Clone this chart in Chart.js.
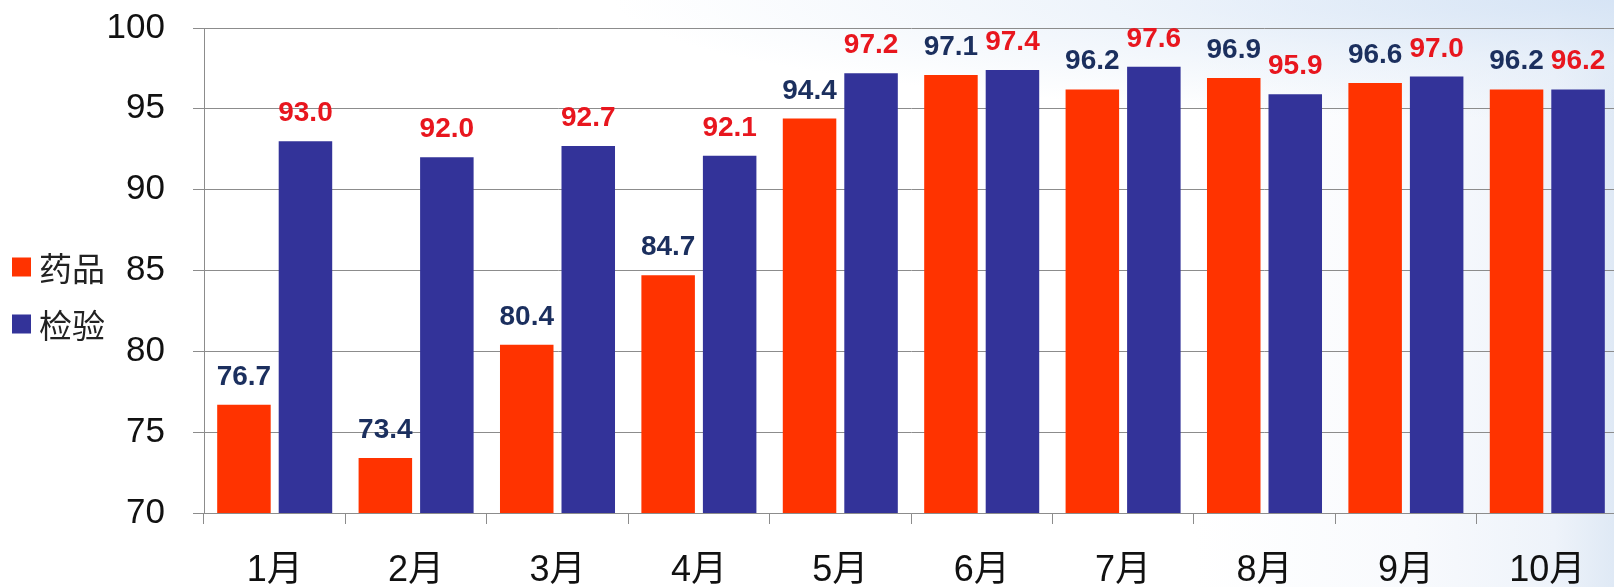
<!DOCTYPE html>
<html><head><meta charset="utf-8">
<script src="https://cdn.jsdelivr.net/npm/chart.js@4/dist/chart.umd.min.js"></script>
<style>
html,body{margin:0;padding:0;overflow:hidden;width:1614px;height:587px;}
body{background:
  radial-gradient(ellipse 1000px 120px at 100% 0%, rgba(214,228,245,0.95) 0%, rgba(226,236,248,0.6) 50%, rgba(255,255,255,0) 100%),
  linear-gradient(to left, #dfe9f5 0px, #eef3fa 60px, #f8fafd 200px, #ffffff 420px);}
canvas{display:block}
</style></head><body>
<canvas id="c" width="1630" height="587"></canvas>
<script>
const categories = ['1月','2月','3月','4月','5月','6月','7月','8月','9月','10月'];
const seriesNames = ['药品','检验'];
const drugValues = [76.7, 73.4, 80.4, 84.7, 94.4, 97.1, 96.2, 96.9, 96.6, 96.2];
const labValues  = [93.0, 92.0, 92.7, 92.1, 97.2, 97.4, 97.6, 95.9, 97.0, 96.2];
const yMin = 70, yMax = 100, yStep = 5;

const valueLabels = {
  id: 'valueLabels',
  afterDatasetsDraw(chart) {
    const ctx = chart.ctx;
    chart.data.datasets.forEach((ds, di) => {
      const meta = chart.getDatasetMeta(di);
      ctx.save();
      ctx.font = 'bold 28px "Liberation Sans", Arial, sans-serif';
      ctx.fillStyle = ds.labelColor;
      ctx.textAlign = 'center';
      ctx.textBaseline = 'alphabetic';
      meta.data.forEach((bar, i) => {
        ctx.fillText(ds.data[i].toFixed(1), bar.x, bar.y - 20);
      });
      ctx.restore();
    });
  }
};

// Legend at the far left, built from the datasets' own labels and colours
const sideLegend = {
  id: 'sideLegend',
  afterDraw(chart) {
    const ctx = chart.ctx;
    ctx.save();
    ctx.font = '33px "Noto Sans CJK SC", sans-serif';
    ctx.textAlign = 'left';
    ctx.textBaseline = 'middle';
    chart.data.datasets.forEach((ds, i) => {
      const cy = 267 + i * 57;
      ctx.fillStyle = ds.backgroundColor;
      ctx.fillRect(12, cy - 9.5, 19, 19);
      ctx.fillStyle = '#222';
      ctx.fillText(ds.label, 39, cy + 1);
    });
    ctx.restore();
  }
};

new Chart(document.getElementById('c'), {
  type: 'bar',
  data: {
    labels: categories,
    datasets: [
      { label: seriesNames[0], data: drugValues, backgroundColor: '#ff3300', labelColor: '#1b2f5e',
        categoryPercentage: 0.87, barPercentage: 0.87 },
      { label: seriesNames[1], data: labValues, backgroundColor: '#333399', labelColor: '#e8161e',
        categoryPercentage: 0.87, barPercentage: 0.87 }
    ]
  },
  options: {
    responsive: false,
    devicePixelRatio: 1,
    animation: false,
    layout: { padding: { left: 0, right: 12, top: 28, bottom: 0 } },
    plugins: {
      legend: { display: false },
      tooltip: { enabled: false }
    },
    scales: {
      x: {
        grid: { display: true, drawOnChartArea: false, drawTicks: true, tickLength: 11, color: '#8c8c8c', offset: true },
        border: { display: true, color: '#8c8c8c', width: 1 },
        ticks: { font: { family: '"Liberation Sans", "Noto Sans CJK SC", sans-serif', size: 36 }, color: '#111', padding: 25, maxRotation: 0 },
        afterFit(scale) { scale.height = 74; scale.paddingLeft = 0; scale.paddingRight = 0; }
      },
      y: {
        min: yMin, max: yMax,
        grid: { color: '#8c8c8c', lineWidth: 1, tickLength: 11, drawTicks: true },
        border: { display: true, color: '#8c8c8c', width: 1 },
        ticks: { stepSize: yStep, font: { family: '"Liberation Sans", Arial, sans-serif', size: 35 }, color: '#111', padding: 28 },
        afterFit(scale) { scale.width = 204; scale.paddingTop = 0; scale.paddingBottom = 0; }
      }
    }
  },
  plugins: [valueLabels, sideLegend]
});
</script>
</body></html>
